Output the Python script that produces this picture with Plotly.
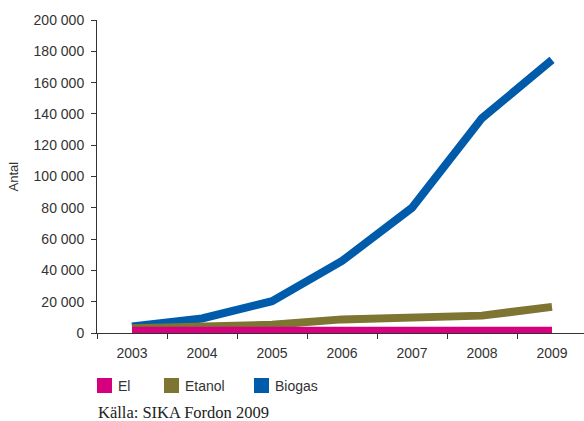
import plotly.graph_objects as go

# Fordon per drivmedel, antal
years = ["2003", "2004", "2005", "2006", "2007", "2008", "2009"]
series_names = ["El", "Etanol", "Biogas"]
el = [1500, 1500, 1500, 1500, 1500, 1500, 1500]
etanol = [3000, 3900, 5200, 8700, 9900, 11100, 16700]
biogas = [4200, 9300, 20300, 46000, 80000, 137300, 174500]
colors = ["#D6007E", "#7D7531", "#005BAA"]
y_ticks = [0, 20000, 40000, 60000, 80000, 100000, 120000, 140000, 160000, 180000, 200000]

W, H = 584, 421
L, T, B = 97, 20, 88
plot_w = W - L

text_color = "#333333"
sans = "Liberation Sans, Arial, sans-serif"
serif = "Liberation Serif, Times New Roman, serif"

fig = go.Figure()

# draw Biogas first so El ends up on top
values = {"El": el, "Etanol": etanol, "Biogas": biogas}
for name in ["Biogas", "Etanol", "El"]:
    c = colors[series_names.index(name)]
    fig.add_trace(go.Scatter(
        x=years, y=values[name], mode="lines", name=name,
        line=dict(color=c, width=8), showlegend=False,
        cliponaxis=False,
    ))

# legend: coloured squares with labels below the axis
legend_x = [97, 164, 254]
for name, c, lx in zip(series_names, colors, legend_x):
    fig.add_shape(type="rect", xref="paper", yref="paper",
                  x0=(lx - L) / plot_w, x1=(lx + 15 - L) / plot_w,
                  y0=(H - B - 393) / (H - T - B), y1=(H - B - 378) / (H - T - B),
                  fillcolor=c, line=dict(width=0))
    fig.add_annotation(text=name, xref="paper", yref="paper",
                       x=(lx + 19 - L) / plot_w, y=(H - B - 386) / (H - T - B),
                       xanchor="left", yanchor="middle", showarrow=False,
                       font=dict(family=sans, size=14, color=text_color))

fig.add_annotation(text="Källa: SIKA Fordon 2009", xref="paper", yref="paper",
                   x=(96 - L) / plot_w, y=(H - B - 412) / (H - T - B),
                   xanchor="left", yanchor="middle", showarrow=False,
                   font=dict(family=serif, size=16.5, color="#222222"))

fig.add_annotation(text="Antal", xref="paper", yref="paper",
                   x=(13 - L) / plot_w, y=0.5, textangle=-90,
                   xanchor="center", yanchor="middle", showarrow=False,
                   font=dict(family=sans, size=13, color=text_color))

fig.update_layout(
    width=W, height=H,
    margin=dict(l=L, r=0, t=T, b=B),
    paper_bgcolor="white", plot_bgcolor="white",
    separators=", ",
    showlegend=False,
    font=dict(family=sans, size=14, color=text_color),
)
fig.update_xaxes(
    type="category", range=[-0.5, -0.5 + plot_w / 70.0],
    tickson="boundaries", ticks="outside", ticklen=5, tickcolor="#333333",
    showline=True, linecolor="#333333", linewidth=1,
    showgrid=False, zeroline=False, ticklabelstandoff=7,
    tickfont=dict(family=sans, size=14, color=text_color),
)
fig.update_yaxes(
    range=[0, 200000], tickvals=y_ticks, tickformat=",d",
    ticks="outside", ticklen=5, tickcolor="#333333",
    showline=True, linecolor="#333333", linewidth=1,
    showgrid=False, zeroline=False, ticklabelstandoff=4,
    tickfont=dict(family=sans, size=14, color=text_color),
)

fig.write_html("out.html")
